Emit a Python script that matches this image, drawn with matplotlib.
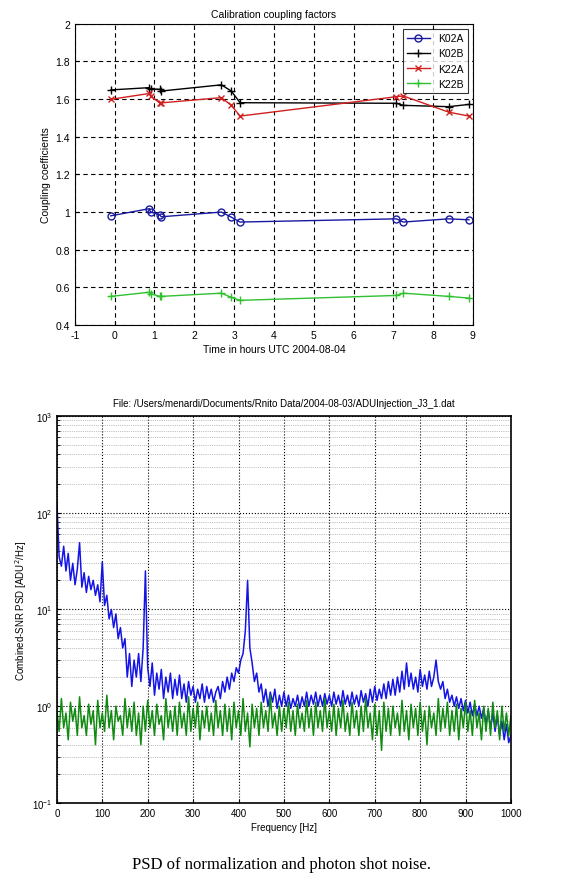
import matplotlib
matplotlib.use("Agg")
import matplotlib.pyplot as plt
import numpy as np

# top chart: calibration coupling factors
hours = [-0.1, 0.87, 0.9, 1.13, 1.17, 2.68, 2.93, 3.15, 7.08, 7.25, 8.39, 8.9]
k02a = [0.98, 1.018, 1.0, 0.986, 0.975, 1.0, 0.973, 0.947, 0.964, 0.947, 0.964, 0.959]
k02b = [1.649, 1.661, 1.655, 1.652, 1.643, 1.676, 1.643, 1.581, 1.578, 1.567, 1.56, 1.572]
k22a = [1.599, 1.63, 1.617, 1.58, 1.58, 1.608, 1.567, 1.51, 1.613, 1.617, 1.531, 1.51]
k22b = [0.552, 0.574, 0.567, 0.552, 0.552, 0.569, 0.547, 0.531, 0.557, 0.569, 0.552, 0.543]

# bottom chart: PSD, values read every 5 Hz
freq = list(range(0, 1001, 5))
psd_norm = [
    130, 35, 28, 45, 25, 38, 20, 30, 18, 26,
    49, 17, 24, 15, 22, 16, 20, 14, 18, 12,
    31, 11, 14, 8, 10, 6.5, 9, 5, 6.5, 4,
    5, 2, 3.5, 1.6, 3, 2, 3.5, 1.8, 4, 25,
    2.5, 1.6, 2.8, 1.3, 2.2, 1.5, 2.4, 1.2, 2, 1.4,
    2.2, 1.2, 1.9, 1.3, 2.1, 1.2, 1.7, 1.1, 1.8, 1.3,
    1.6, 1.1, 1.5, 1.2, 1.7, 1.1, 1.6, 1.2, 1.5, 1.1,
    1.4, 1.6, 1.2, 1.8, 1.4, 2.0, 1.5, 2.2, 1.8, 2.5,
    2.2, 3.0, 3.5, 6, 20, 4, 2.8, 1.8, 2.2, 1.4,
    1.7, 1.1, 1.5, 1.0, 1.4, 1.1, 1.5, 0.95, 1.3, 1.0,
    1.4, 1.0, 1.3, 0.95, 1.2, 1.0, 1.3, 0.95, 1.25, 1.0,
    1.4, 1.0, 1.3, 1.05, 1.4, 1.0, 1.3, 1.0, 1.35, 1.05,
    1.3, 1.0, 1.4, 1.05, 1.3, 1.0, 1.45, 1.05, 1.3, 1.0,
    1.4, 1.05, 1.3, 1.0, 1.45, 1.1, 1.35, 1.0, 1.5, 1.1,
    1.6, 1.15, 1.5, 1.2, 1.7, 1.2, 1.8, 1.3, 1.9, 1.3,
    2.0, 1.4, 2.3, 1.5, 2.8, 1.6, 2.2, 1.5, 2.0, 1.4,
    2.4, 1.6, 2.1, 1.5, 2.3, 1.6, 2.0, 3.0, 1.8, 1.5,
    1.8, 1.2, 1.5, 1.1, 1.3, 1.0, 1.25, 0.95, 1.2, 0.9,
    1.15, 0.85, 1.1, 0.8, 1.05, 0.8, 1.0, 0.75, 0.95, 0.65,
    0.9, 0.6, 0.85, 0.55, 0.8, 0.5, 0.7, 0.45, 0.65, 0.42,
    0.5,
]
psd_shot = [
    0.9, 0.55, 1.2, 0.6, 0.85, 0.45, 1.1, 0.7, 0.95, 0.5,
    1.25, 0.6, 0.8, 0.5, 1.05, 0.65, 0.9, 0.4, 1.15, 0.6,
    0.85, 0.55, 1.3, 0.6, 0.9, 0.45, 1.0, 0.7, 0.8, 0.5,
    1.2, 0.6, 0.95, 0.55, 1.1, 0.5, 0.85, 0.4, 1.0, 0.55,
    1.15, 0.6, 0.9, 0.5, 1.05, 0.65, 0.8, 0.45, 1.2, 0.6,
    0.9, 0.55, 1.0, 0.5, 1.1, 0.6, 0.85, 0.5, 1.25, 0.55,
    0.95, 0.6, 1.1, 0.45, 0.9, 0.6, 1.0, 0.55, 0.85, 0.5,
    1.15, 0.6, 0.9, 0.5, 1.05, 0.55, 0.95, 0.45, 1.1, 0.6,
    0.9, 0.5, 1.2, 0.55, 0.85, 0.38, 1.05, 0.6, 0.95, 0.5,
    1.1, 0.6, 0.9, 0.55, 1.3, 0.6, 0.85, 0.5, 1.0, 0.55,
    0.95, 0.6, 1.1, 0.55, 0.9, 0.5, 1.05, 0.6, 0.85, 0.55,
    1.15, 0.6, 0.95, 0.5, 1.1, 0.6, 0.9, 0.55, 1.2, 0.6,
    0.9, 0.55, 1.05, 0.5, 0.95, 0.6, 1.15, 0.55, 0.85, 0.5,
    1.1, 0.6, 0.9, 0.5, 1.0, 0.55, 1.2, 0.6, 0.85, 0.45,
    1.05, 0.5, 0.9, 0.35, 1.1, 0.55, 0.95, 0.5, 1.0, 0.6,
    0.85, 0.5, 1.15, 0.55, 0.9, 0.45, 1.05, 0.6, 0.95, 0.5,
    1.1, 0.55, 0.9, 0.4, 1.0, 0.6, 0.85, 0.5, 1.2, 0.55,
    0.95, 0.6, 1.1, 0.5, 0.9, 0.55, 1.05, 0.45, 0.95, 0.6,
    1.1, 0.55, 0.9, 0.5, 1.15, 0.6, 0.85, 0.45, 1.0, 0.55,
    0.95, 0.5, 1.1, 0.6, 0.9, 0.45, 1.0, 0.55, 0.85, 0.5,
    0.8,
]

plt.rcParams['font.family'] = ['Liberation Sans', 'DejaVu Sans']
plt.rcParams['axes.unicode_minus'] = False

fig = plt.figure(figsize=(5.63, 8.78), dpi=100)

# ---- top axes
ax1 = fig.add_axes([0.133, 0.6287, 0.707, 0.343])
ax1.plot(hours, k02a, '-o', color='#1a1aa0', ms=5, mfc='none', lw=1, label='K02A')
ax1.plot(hours, k02b, '-+', color='black', ms=6, lw=1, label='K02B')
ax1.plot(hours, k22a, '-x', color='#d02020', ms=4, lw=1, label='K22A')
ax1.plot(hours, k22b, '-+', color='#30c030', ms=6, lw=1, label='K22B')
ax1.set_xlim(-1, 9)
ax1.set_ylim(0.4, 2)
ax1.set_xticks(range(-1, 10))
ax1.set_yticks([0.4, 0.6, 0.8, 1.0, 1.2, 1.4, 1.6, 1.8, 2.0])
ax1.set_yticklabels(['0.4', '0.6', '0.8', '1', '1.2', '1.4', '1.6', '1.8', '2'])
ax1.grid(True, color='black', linestyle=(0, (4, 3)), linewidth=0.8)
ax1.tick_params(labelsize=7.5, direction='in', length=3)
ax1.set_title('Calibration coupling factors', fontsize=7.5, pad=5)
ax1.set_xlabel('Time in hours UTC 2004-08-04', fontsize=7.5, labelpad=3)
ax1.set_ylabel('Coupling coefficients', fontsize=7.5, labelpad=3)
leg = ax1.legend(loc='upper right', fontsize=7.5, frameon=True, fancybox=False,
                 edgecolor='black', borderpad=0.4, handlelength=2.2, labelspacing=0.5)
leg.get_frame().set_linewidth(0.8)

# ---- bottom axes
ax2 = fig.add_axes([0.101, 0.0843, 0.8066, 0.4408])
ax2.semilogy(freq, psd_norm, color='#1414e6', lw=1.1)
ax2.semilogy(freq, psd_shot, color='#108a10', lw=1.1)
ax2.set_xlim(0, 1000)
ax2.set_ylim(0.1, 1000)
ax2.set_xticks(range(0, 1001, 100))
ax2.grid(True, which='major', color='black', linestyle=':', linewidth=0.8)
ax2.grid(True, which='minor', color='#888888', linestyle=':', linewidth=0.5)
ax2.tick_params(labelsize=7, direction='in', length=3)
ax2.tick_params(which='minor', direction='in', length=2)
ax2.set_title('File: /Users/menardi/Documents/Rnito Data/2004-08-03/ADUInjection_J3_1.dat',
              fontsize=7, pad=7)
ax2.set_xlabel('Frequency [Hz]', fontsize=7, labelpad=3)
ax2.set_ylabel('Combined-SNR PSD [ADU$^2$/Hz]', fontsize=7, labelpad=2)
for s in ax2.spines.values():
    s.set_linewidth(1.2)

fig.text(0.5, 0.015, 'PSD of normalization and photon shot noise.',
         ha='center', va='center', fontsize=12, family=['Liberation Serif', 'DejaVu Serif'])

fig.savefig('out.png', dpi=100)
